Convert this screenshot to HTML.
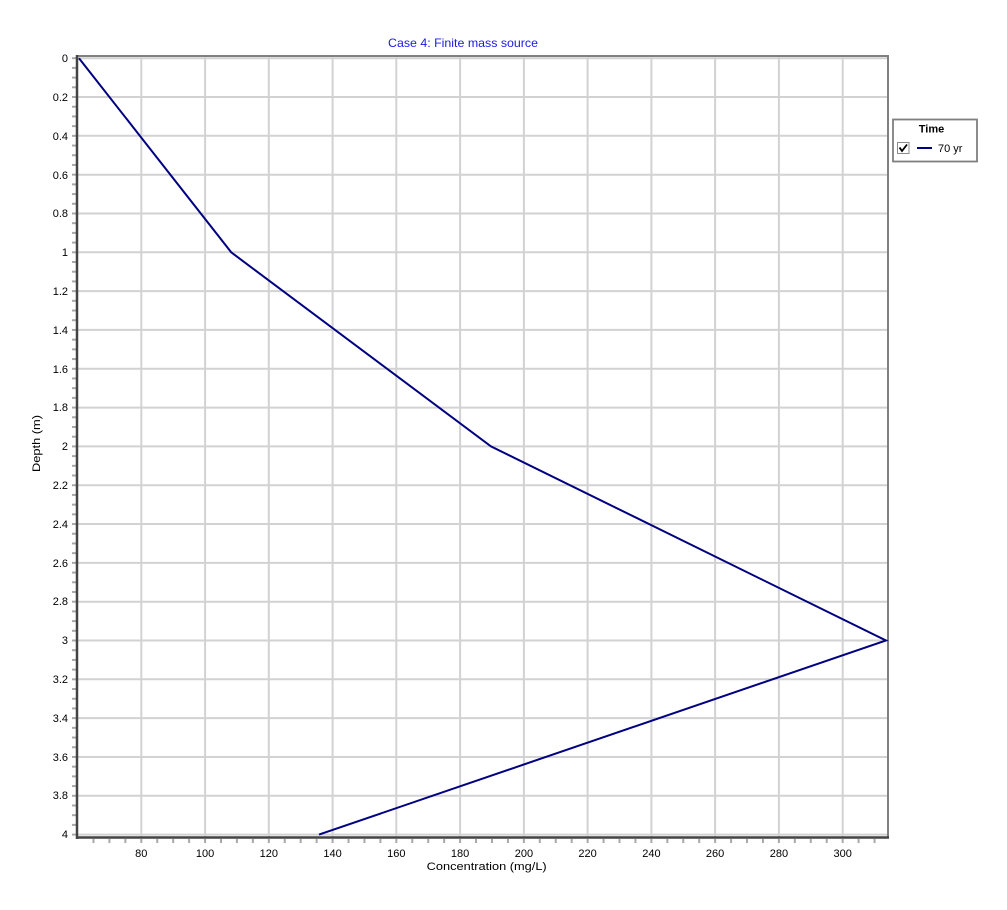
<!DOCTYPE html>
<html>
<head>
<meta charset="utf-8">
<style>
  html,body{margin:0;padding:0;background:#fff;}
  svg{display:block;}
  text{font-family:"Liberation Sans","DejaVu Sans",sans-serif;}
</style>
</head>
<body>
<svg width="1007" height="910" viewBox="0 0 1007 910" xmlns="http://www.w3.org/2000/svg">
  <rect x="0" y="0" width="1007" height="910" fill="#ffffff"/>

  <!-- Title -->
  <text x="463" y="47" font-size="12" fill="#1a1ae6" text-anchor="middle" textLength="150" lengthAdjust="spacingAndGlyphs">Case 4: Finite mass source</text>

  <!-- Grid lines -->
  <g stroke="#d2d2d2" stroke-width="2" fill="none">
    <!-- vertical: x(v)=141.3+(v-80)*3.188 -->
    <line x1="141.3" y1="57" x2="141.3" y2="837"/>
    <line x1="205.1" y1="57" x2="205.1" y2="837"/>
    <line x1="268.8" y1="57" x2="268.8" y2="837"/>
    <line x1="332.6" y1="57" x2="332.6" y2="837"/>
    <line x1="396.3" y1="57" x2="396.3" y2="837"/>
    <line x1="460.1" y1="57" x2="460.1" y2="837"/>
    <line x1="523.9" y1="57" x2="523.9" y2="837"/>
    <line x1="587.6" y1="57" x2="587.6" y2="837"/>
    <line x1="651.4" y1="57" x2="651.4" y2="837"/>
    <line x1="715.1" y1="57" x2="715.1" y2="837"/>
    <line x1="778.9" y1="57" x2="778.9" y2="837"/>
    <line x1="842.7" y1="57" x2="842.7" y2="837"/>
    <!-- horizontal: y(d)=58.2+194.1*d -->
    <line x1="77" y1="58.2" x2="888" y2="58.2"/>
    <line x1="77" y1="97.0" x2="888" y2="97.0"/>
    <line x1="77" y1="135.8" x2="888" y2="135.8"/>
    <line x1="77" y1="174.7" x2="888" y2="174.7"/>
    <line x1="77" y1="213.5" x2="888" y2="213.5"/>
    <line x1="77" y1="252.3" x2="888" y2="252.3"/>
    <line x1="77" y1="291.1" x2="888" y2="291.1"/>
    <line x1="77" y1="329.9" x2="888" y2="329.9"/>
    <line x1="77" y1="368.8" x2="888" y2="368.8"/>
    <line x1="77" y1="407.6" x2="888" y2="407.6"/>
    <line x1="77" y1="446.4" x2="888" y2="446.4"/>
    <line x1="77" y1="485.2" x2="888" y2="485.2"/>
    <line x1="77" y1="524.0" x2="888" y2="524.0"/>
    <line x1="77" y1="562.9" x2="888" y2="562.9"/>
    <line x1="77" y1="601.7" x2="888" y2="601.7"/>
    <line x1="77" y1="640.5" x2="888" y2="640.5"/>
    <line x1="77" y1="679.3" x2="888" y2="679.3"/>
    <line x1="77" y1="718.1" x2="888" y2="718.1"/>
    <line x1="77" y1="757.0" x2="888" y2="757.0"/>
    <line x1="77" y1="795.8" x2="888" y2="795.8"/>
    <line x1="77" y1="834.6" x2="888" y2="834.6"/>
  </g>

  <!-- Minor ticks -->
  <g stroke="#a8a8a8" stroke-width="2" id="ticks">
  </g>

  <!-- Frame -->
  <line x1="76" y1="56" x2="889" y2="56" stroke="#808080" stroke-width="2"/>
  <line x1="888" y1="55" x2="888" y2="838" stroke="#808080" stroke-width="2"/>
  <line x1="77" y1="55" x2="77" y2="839" stroke="#444444" stroke-width="2.5"/>
  <line x1="76" y1="837.5" x2="889" y2="837.5" stroke="#444444" stroke-width="2.5"/>

  <!-- Data line -->
  <polyline fill="none" stroke="#000080" stroke-width="2" stroke-linejoin="miter"
    points="79,58.2 231.2,252.3 491,446.4 886,640.5 319,834.6"/>

  <!-- Y tick labels -->
  <g font-size="11" fill="#000" text-anchor="end">
    <text x="68" y="62">0</text>
    <text x="68" y="101">0.2</text>
    <text x="68" y="140">0.4</text>
    <text x="68" y="179">0.6</text>
    <text x="68" y="217">0.8</text>
    <text x="68" y="256">1</text>
    <text x="68" y="295">1.2</text>
    <text x="68" y="334">1.4</text>
    <text x="68" y="373">1.6</text>
    <text x="68" y="411">1.8</text>
    <text x="68" y="450">2</text>
    <text x="68" y="489">2.2</text>
    <text x="68" y="528">2.4</text>
    <text x="68" y="567">2.6</text>
    <text x="68" y="605">2.8</text>
    <text x="68" y="644">3</text>
    <text x="68" y="683">3.2</text>
    <text x="68" y="722">3.4</text>
    <text x="68" y="761">3.6</text>
    <text x="68" y="799">3.8</text>
    <text x="68" y="838">4</text>
  </g>

  <!-- X tick labels -->
  <g font-size="11" fill="#000" text-anchor="middle">
    <text x="141.3" y="857">80</text>
    <text x="205.1" y="857">100</text>
    <text x="268.8" y="857">120</text>
    <text x="332.6" y="857">140</text>
    <text x="396.3" y="857">160</text>
    <text x="460.1" y="857">180</text>
    <text x="523.9" y="857">200</text>
    <text x="587.6" y="857">220</text>
    <text x="651.4" y="857">240</text>
    <text x="715.1" y="857">260</text>
    <text x="778.9" y="857">280</text>
    <text x="842.7" y="857">300</text>
  </g>

  <!-- Axis titles -->
  <text x="486.7" y="870" font-size="11" fill="#000" text-anchor="middle" textLength="120" lengthAdjust="spacingAndGlyphs">Concentration (mg/L)</text>
  <text transform="translate(40,443.5) rotate(-90)" font-size="11" fill="#000" text-anchor="middle" textLength="57" lengthAdjust="spacingAndGlyphs">Depth (m)</text>

  <!-- Legend -->
  <rect x="893" y="119.5" width="84" height="42" fill="#fff" stroke="#7f7f7f" stroke-width="1.8"/>
  <text x="931.5" y="132.5" font-size="11" font-weight="bold" fill="#000" text-anchor="middle">Time</text>
  <rect x="897.5" y="142.5" width="11.5" height="11" fill="#fff" stroke="#8a8a8a" stroke-width="1"/>
  <polyline points="899.5,147.5 902,151 907,144.5" fill="none" stroke="#000" stroke-width="1.8"/>
  <line x1="917" y1="148" x2="932" y2="148" stroke="#000080" stroke-width="2"/>
  <text x="938" y="152" font-size="11" fill="#000">70 yr</text>

  <script>
    (function(){
      var g=document.getElementById('ticks');
      var ns='http://www.w3.org/2000/svg';
      // x minor ticks every 5 units from 60 to 310
      for(var v=65; v<=312; v+=5){
        var x=141.3+(v-80)*3.188;
        var l=document.createElementNS(ns,'line');
        l.setAttribute('x1',x);l.setAttribute('x2',x);
        l.setAttribute('y1',839);l.setAttribute('y2',843);
        g.appendChild(l);
      }
      // y minor ticks every 0.05
      for(var i=0;i<=80;i++){
        var y=58.2+194.1*(i*0.05);
        var l2=document.createElementNS(ns,'line');
        l2.setAttribute('x1',72);l2.setAttribute('x2',76);
        l2.setAttribute('y1',y);l2.setAttribute('y2',y);
        g.appendChild(l2);
      }
    })();
  </script>
</svg>
</body>
</html>
